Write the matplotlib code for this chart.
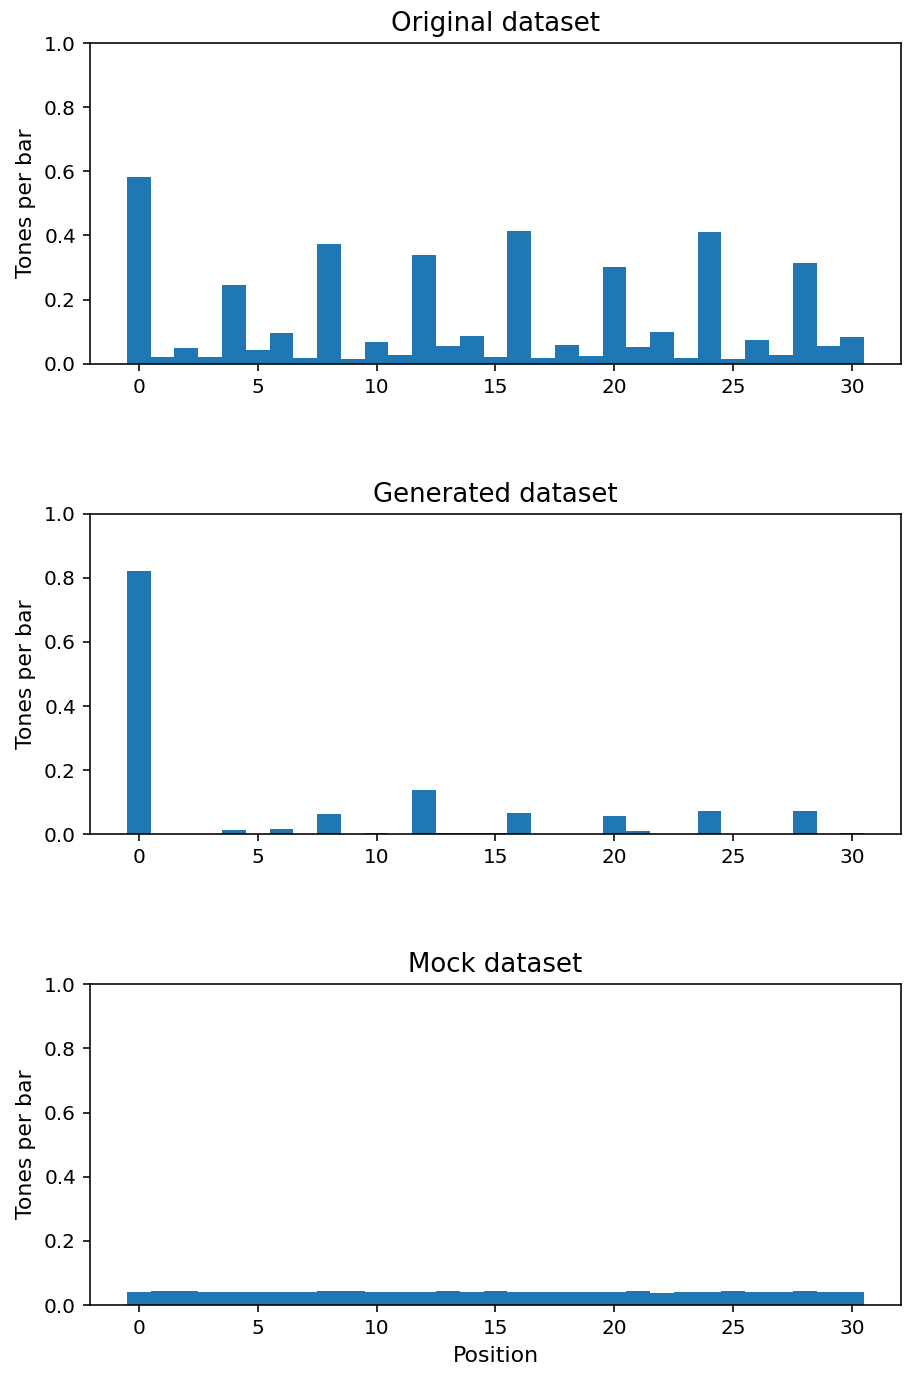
import matplotlib
matplotlib.use("Agg")
import matplotlib.pyplot as plt
import numpy as np

# tones-per-bar at each position (0..30)
positions = list(range(31))

original = [0.581, 0.020, 0.048, 0.020, 0.245, 0.042, 0.095, 0.017, 0.375, 0.014,
            0.067, 0.026, 0.338, 0.057, 0.088, 0.020, 0.413, 0.017, 0.060, 0.023,
            0.301, 0.051, 0.098, 0.017, 0.410, 0.014, 0.073, 0.029, 0.313, 0.057,
            0.082]

generated = [0.820, 0.001, 0.0, 0.0, 0.013, 0.0, 0.016, 0.0, 0.063, 0.0,
             0.003, 0.0, 0.140, 0.003, 0.003, 0.003, 0.066, 0.001, 0.001, 0.0,
             0.057, 0.010, 0.0, 0.001, 0.072, 0.0, 0.0, 0.0, 0.072, 0.0,
             0.003]

mock = [0.040, 0.044, 0.044, 0.040, 0.040, 0.040, 0.040, 0.040, 0.044, 0.044,
        0.040, 0.040, 0.040, 0.044, 0.040, 0.044, 0.040, 0.040, 0.040, 0.040,
        0.040, 0.044, 0.036, 0.040, 0.040, 0.044, 0.040, 0.040, 0.044, 0.040,
        0.040]

titles = ["Original dataset", "Generated dataset", "Mock dataset"]
datasets = [original, generated, mock]

DPI = 144
fig, axes = plt.subplots(3, 1, figsize=(905 / DPI, 1374 / DPI), dpi=DPI)
plt.subplots_adjust(left=0.0994, right=0.9956, top=0.9687, bottom=0.0502, hspace=0.467)

for ax, title, values in zip(axes, titles, datasets):
    ax.bar(positions, values, width=1.0, color="#1f77b4")
    ax.set_ylim(0, 1.0)
    ax.set_title(title, fontsize=13)
    ax.set_ylabel("Tones per bar", fontsize=11)
    ax.tick_params(labelsize=10)

axes[-1].set_xlabel("Position", fontsize=11)

plt.savefig("out.png", dpi=DPI)
plt.close()
